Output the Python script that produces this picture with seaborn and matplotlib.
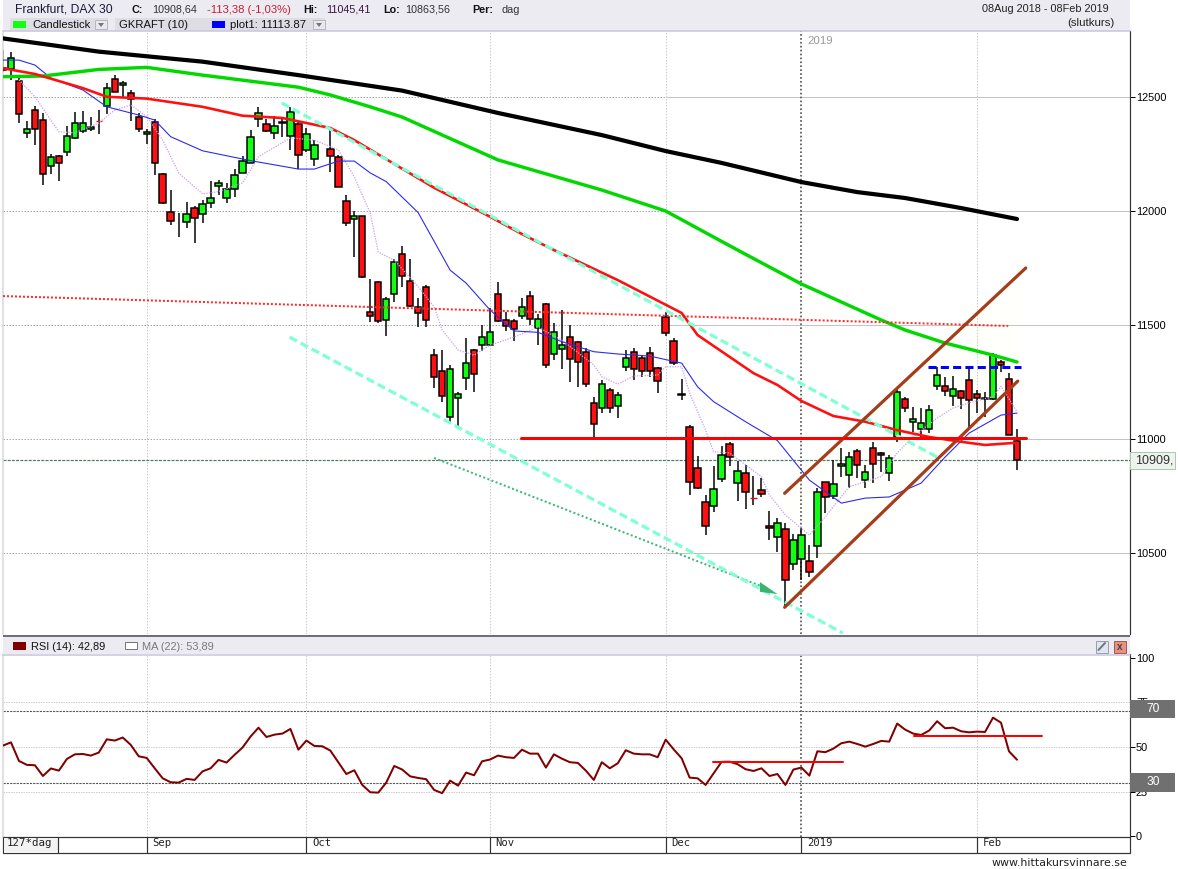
import numpy as np
import matplotlib
matplotlib.use('Agg')
import matplotlib.pyplot as plt
from matplotlib.patches import Rectangle
import seaborn as sns

nan = float('nan')

# daily candles, one slot per trading day
opens = [12629, 12623, 12571, 12343, 12442, 12398, 12199, 12240, 12260, 12319,
         12352, 12361, 12393, 12459, 12578, 12551, 12516, 12414, 12336, 12389,
         12161, 11994, nan, 11950, 12012, 11986, 12034, 12108, 12056, 12095,
         12165, 12209, 12402, 12380, 12341, 12392, 12328, 12380, 12266, 12227,
         nan, 12274, 12236, 12043, 11964, 11977, 11556, 11687, 11521, 11635,
         11810, 11692, 11578, 11665, 11367, 11297, 11095, 11179, 11266, 11389,
         11414, 11414, 11635, 11521, 11516, 11538, 11626, 11486, 11591, 11371,
         11393, 11446, 11424, 11380, 11157, 11135, 11214, 11143, 11314, 11380,
         11354, 11376, 11310, 11534, 11429, 11199, 11051, 10871, 10722, 10707,
         10826, 10977, 10806, 10850, 10740, 10775, 10617, 10569, 10604, 10450,
         10472, 10464, 10529, 10810, 10749, 10880, 10841, 10946, 10819, 10959,
         10937, 10850, 11010, 11174, 11073, 11043, 11043, 11231, 11231, 11187,
         11209, 11257, 11196, 11179, 11174, 11336, 11262, 10990]
highs = [12706, 12699, 12596, 12395, 12461, 12430, 12250, 12246, 12373, 12434,
         12439, 12412, 12443, 12563, 12596, 12570, 12531, 12430, 12360, 12404,
         12165, 12092, 11991, 12038, 12022, 12048, 12132, 12136, 12121, 12184,
         12241, 12355, 12455, 12402, 12417, 12414, 12455, 12392, 12364, 12311,
         nan, 12358, 12246, 12070, 12000, 11978, 11702, 11693, 11621, 11789,
         11846, 11789, 11617, 11674, 11395, 11390, 11325, 11205, 11442, 11395,
         11500, 11575, 11689, 11556, 11525, 11617, 11649, 11548, 11595, 11509,
         11566, 11500, 11431, 11398, 11186, 11259, 11222, 11207, 11390, 11398,
         11368, 11402, 11317, 11557, 11442, 11262, 11061, 10925, 10754, 10882,
         10969, 10988, 10905, 10886, 10838, 10830, 10684, 10652, 10630, 10582,
         10608, 10535, 10786, 10811, 10908, 10959, 10943, 10956, 10886, 10988,
         10944, 10930, 11224, 11184, 11139, 11135, 11148, 11317, 11273, 11276,
         11215, 11310, 11215, 11207, 11376, 11346, 11288, 11045]
lows = [12610, 12575, 12387, 12321, 12289, 12114, 12162, 12133, 12241, 12314,
        12343, 12352, 12338, 12425, 12522, 12497, 12396, 12348, 12294, 12158,
        12031, 11939, 11884, 11927, 11861, 11949, 12014, 12070, 12036, 12063,
        12165, 12209, 12370, 12348, 12317, 12325, 12268, 12183, 12260, 12197,
        nan, 12172, 12104, 11934, 11800, 11708, 11513, 11510, 11453, 11602,
        11668, 11580, 11493, 11493, 11225, 11164, 11076, 11051, 11215, 11207,
        11387, 11412, 11514, 11475, 11431, 11525, 11500, 11412, 11310, 11346,
        11307, 11251, 11229, 11229, 11010, 11113, 11113, 11091, 11300, 11259,
        11271, 11271, 11203, 11452, 11325, 11171, 10754, 10783, 10579, 10681,
        10813, 10882, 10729, 10693, 10711, 10747, 10557, 10506, 10268, 10425,
        10382, 10396, 10479, 10677, 10739, 10835, 10784, 10828, 10784, 10808,
        10857, 10817, 10988, 11120, 11032, 11010, 11028, 11215, 11189, 11145,
        11130, 11051, 11113, 11098, 11173, 11295, 11018, 10864]
closes = [12618, 12672, 12424, 12358, 12360, 12161, 12236, 12209, 12328, 12385,
          12385, 12367, 12393, 12538, 12523, 12560, 12493, 12361, 12345, 12209,
          12036, 11955, nan, 11986, 11968, 12029, 12056, 12121, 12095, 12157,
          12218, 12323, 12429, 12350, 12371, 12385, 12433, 12244, 12336, 12288,
          nan, 12243, 12107, 11946, 11977, 11709, 11538, 11518, 11613, 11775,
          11714, 11585, 11551, 11521, 11271, 11187, 11306, 11196, 11332, 11284,
          11446, 11468, 11516, 11494, 11481, 11578, 11525, 11525, 11323, 11468,
          11411, 11350, 11336, 11240, 11064, 11240, 11135, 11192, 11354, 11306,
          11297, 11297, 11253, 11464, 11332, 11195, 10810, 10784, 10617, 10779,
          10929, 10920, 10861, 10769, 10740, 10760, 10608, 10630, 10380, 10556,
          10578, 10415, 10766, 10744, 10801, 10889, 10920, 10885, 10854, 10889,
          10929, 10915, 11205, 11135, 11086, 11069, 11126, 11279, 11209, 11218,
          11179, 11170, 11179, 11174, 11368, 11323, 11019, 10909]

# moving averages, vertices as (bar, price)
ma_black_bar = [0, 12, 25, 37, 50, 62, 75, 83, 90, 100, 107, 113, 120, 127]
ma_black = [12757, 12699, 12655, 12596, 12528, 12430, 12333, 12263, 12211, 12127, 12083, 12057, 12013, 11965]
ma_green_bar = [0, 5, 12, 18, 25, 37, 41, 46, 50, 62, 75, 83, 92, 100, 110, 113, 118, 124, 127]
ma_green = [12589, 12592, 12621, 12630, 12596, 12543, 12509, 12457, 12412, 12224, 12092, 12000, 11829, 11680, 11522, 11478, 11421, 11368, 11338]
ma_red_bar = [0, 4, 10, 13, 18, 25, 30, 35, 41, 44, 54, 61, 65, 69, 77, 85, 87, 94, 97, 100, 104, 108, 112, 116, 120, 123, 127]
ma_red = [12626, 12601, 12539, 12501, 12493, 12457, 12418, 12408, 12364, 12311, 12102, 11975, 11899, 11829, 11697, 11553, 11456, 11289, 11237, 11167, 11101, 11076, 11039, 11009, 10988, 10974, 10984]
ma_blue_bar = [0, 2, 4, 6, 10, 13, 17, 19, 21, 25, 31, 37, 39, 42, 44, 46, 48, 52, 56, 58, 61, 64, 67, 70, 74, 77, 81, 85, 87, 89, 93, 97, 101, 105, 108, 111, 115, 118, 121, 125, 127]
ma_blue = [12662, 12662, 12640, 12583, 12531, 12457, 12421, 12399, 12326, 12264, 12221, 12184, 12184, 12219, 12219, 12167, 12129, 11993, 11741, 11684, 11566, 11474, 11468, 11427, 11383, 11373, 11364, 11333, 11229, 11164, 11076, 10993, 10820, 10719, 10741, 10746, 10807, 10921, 11026, 11105, 11114]
ma_lav_bar = [2, 4, 7, 9, 12, 14, 16, 18, 20, 22, 25, 27, 30, 32, 36, 39, 42, 44, 46, 47, 49, 52, 54, 55, 57, 59, 61, 64, 67, 70, 74, 75, 77, 79, 82, 83, 85, 86, 88, 89, 91, 95, 96, 98, 101, 103, 106, 110, 112, 114, 117, 119, 121, 124, 125, 127]
ma_lav = [12575, 12501, 12347, 12343, 12386, 12443, 12465, 12414, 12311, 12167, 12075, 12085, 12123, 12238, 12321, 12311, 12268, 12150, 11991, 11820, 11785, 11668, 11580, 11478, 11390, 11368, 11412, 11447, 11491, 11434, 11325, 11273, 11241, 11276, 11281, 11317, 11317, 11202, 11039, 10944, 10939, 10835, 10754, 10667, 10579, 10659, 10791, 10835, 10939, 11010, 11092, 11136, 11159, 11186, 11232, 11120]

# hand drawn lines on the chart
aqua_top_bar, aqua_top = [34.9, 117], [12474, 10921]
aqua_low_bar, aqua_low = [35.9, 105.2], [11447, 10149]
green_dot_bar, green_dot = [54, 94.8], [10917, 10357]
red_dot_bar, red_dot = [0, 125.9], [11627, 11496]
red_flat_bar, red_flat = [64.9, 128.1], [11003, 11003]
blue_dash_bar, blue_dash = [115.9, 127.5], [11314, 11314]
chan_up_bar, chan_up = [97.9, 128.1], [10762, 11750]
chan_low_bar, chan_low = [97.9, 127.1], [10262, 11254]
arrow_bar, arrow_val = [94.8, 97, 94.8], [10373, 10320, 10330]

rsi = [50.8, 52.6, 42.2, 40.0, 39.8, 33.8, 38.0, 36.8, 43.3, 45.9,
       46.1, 45.2, 46.9, 54.3, 53.6, 55.3, 51.2, 44.8, 43.9, 38.1,
       32.5, 30.3, 30.1, 32.2, 31.6, 36.4, 38.1, 42.8, 41.3, 45.6,
       49.7, 55.8, 60.8, 55.6, 56.9, 57.5, 60.1, 48.5, 53.6, 50.6,
       50.4, 48.0, 41.5, 34.9, 37.0, 28.8, 24.7, 24.5, 30.1, 39.4,
       37.4, 33.6, 32.7, 32.0, 26.0, 24.2, 31.2, 28.4, 35.7, 34.2,
       42.0, 43.0, 45.2, 44.3, 43.9, 48.5, 46.3, 46.3, 38.5, 45.9,
       43.5, 41.5, 41.1, 36.8, 31.6, 41.5, 38.1, 40.9, 48.2, 46.3,
       45.9, 45.9, 44.3, 54.1, 48.7, 43.7, 32.9, 32.5, 28.8, 35.3,
       41.7, 41.8, 40.4, 37.6, 36.6, 38.1, 33.8, 34.9, 28.8, 37.4,
       38.5, 34.0, 47.6, 47.1, 49.1, 52.1, 53.0, 51.7, 50.2, 51.7,
       53.4, 53.0, 63.1, 59.7, 57.5, 56.7, 59.2, 64.4, 60.5, 60.8,
       58.8, 58.2, 58.6, 58.4, 66.4, 63.6, 47.6, 42.89]
rsi_line1_bar, rsi_line1 = [88.9, 105.2], [41.5, 41.5]
rsi_line2_bar, rsi_line2 = [114.1, 130.1], [56, 56]

month_bar = [18, 38, 61, 83, 100, 122]
month_names = ['Sep', 'Oct', 'Nov', 'Dec', '2019', 'Feb']
price_ticks = [10500, 11000, 11500, 12000, 12500]
rsi_ticks = [0, 25, 50, 75, 100]
last_price = 10909

W, H = 1178, 869
BAR_PX = 7.984
PANEL = '#ecebf1'

sns.set_style('white')
plt.rcParams['font.family'] = ['Liberation Sans', 'DejaVu Sans']
plt.rcParams['axes.unicode_minus'] = False

fig = plt.figure(figsize=(W / 100, H / 100), dpi=100)


def px_axes(left, top, right, bottom):
    return fig.add_axes([left / W, 1 - bottom / H, (right - left) / W, (bottom - top) / H])


def px(n):
    return n * 0.72


ax = px_axes(3.3, 31, 1130, 634)
ax_rsi = px_axes(3.3, 654.5, 1130, 837)

bars = np.arange(len(opens))
o, h, l, c = [np.array(a, dtype=float) for a in (opens, highs, lows, closes)]
up = c > o
down = c < o
doji = c == o

# grid
xlim = ((3.3 - 3) / BAR_PX, (1130 - 3) / BAR_PX)
for a in (ax, ax_rsi):
    for b, name in zip(month_bar, month_names):
        if name == '2019':
            a.axvline(b, color='#555555', lw=px(1.7), ls=(0, (1, 1.3)), zorder=1.5)
        else:
            a.axvline(b, color='#cccccc', lw=px(1), ls=(0, (1.5, 1.5)), zorder=1)
for t in price_ticks:
    ax.hlines(t, xlim[0], 83, color='#a8a8a8', lw=px(1), ls=(0, (1.5, 1.5)), zorder=1)
    ax.hlines(t, 83, xlim[1], color='#c4c4c4', lw=px(1), zorder=1)
ax.axhline(last_price, color='#4d7d62', lw=px(1.2), ls=(0, (2.5, 1)), zorder=1.2)

# faint fill inside the rising channel
ax.fill(chan_up_bar + chan_low_bar[::-1], chan_up + chan_low[::-1], color='#fffffb', lw=0, zorder=0.5)

# candles: wicks first, then bodies through seaborn
keep = ~np.isnan(h)
ax.vlines(bars[keep], l[keep], h[keep], color='black', lw=px(1.5), zorder=2)
sns.barplot(x=bars[up], y=(c - o)[up], bottom=o[up], native_scale=True, orient='x', width=0.8,
            color='#11ff11', saturation=1, edgecolor='black', linewidth=px(1.5), errorbar=None, zorder=3, ax=ax)
sns.barplot(x=bars[down], y=(o - c)[down], bottom=c[down], native_scale=True, orient='x', width=0.8,
            color='#ff0f0f', saturation=1, edgecolor='black', linewidth=px(1.5), errorbar=None, zorder=3, ax=ax)
ax.hlines(o[doji], bars[doji] - 0.4, bars[doji] + 0.4, color='red', lw=px(1.3), zorder=3)

# moving averages
sns.lineplot(x=ma_lav_bar, y=ma_lav, color='#cba4ee', lw=px(1.3), ls=(0, (1, 1)), estimator=None, ax=ax, zorder=4)
sns.lineplot(x=ma_blue_bar, y=ma_blue, color='#2a2af0', lw=px(1.1), estimator=None, ax=ax, zorder=4)
sns.lineplot(x=ma_black_bar, y=ma_black, color='black', lw=px(4.2), estimator=None, ax=ax, zorder=4)
sns.lineplot(x=ma_green_bar, y=ma_green, color='#00d800', lw=px(3.4), estimator=None, ax=ax, zorder=4)

# hand drawn lines
sns.lineplot(x=red_dot_bar, y=red_dot, color='#ff2a2a', lw=px(2), ls=(0, (1, 1)), estimator=None, ax=ax, zorder=4)
sns.lineplot(x=green_dot_bar, y=green_dot, color='#3cb878', lw=px(2), ls=(0, (1, 1.2)), estimator=None, ax=ax, zorder=4)
sns.lineplot(x=ma_red_bar, y=ma_red, color='#ff0f0f', lw=px(2.6), estimator=None, ax=ax, zorder=4.2)
sns.lineplot(x=aqua_top_bar, y=aqua_top, color='#7fffd4', lw=px(3.2), ls=(0, (2.6, 1.3)), estimator=None, ax=ax, zorder=4.4)
sns.lineplot(x=aqua_low_bar, y=aqua_low, color='#7fffd4', lw=px(3.2), ls=(0, (2.6, 1.3)), estimator=None, ax=ax, zorder=4.4)
ax.fill(arrow_bar, arrow_val, color='#3cb371', lw=0, zorder=4.5)
sns.lineplot(x=chan_up_bar, y=chan_up, color='#a53c1a', lw=px(3.2), estimator=None, ax=ax, zorder=4.6)
sns.lineplot(x=chan_low_bar, y=chan_low, color='#a53c1a', lw=px(3.2), estimator=None, ax=ax, zorder=4.6)
sns.lineplot(x=red_flat_bar, y=red_flat, color='#ff0000', lw=px(3), estimator=None, ax=ax, zorder=4.7)
sns.lineplot(x=blue_dash_bar, y=blue_dash, color='#0000ff', lw=px(3), ls=(0, (2.7, 1.4)), estimator=None, ax=ax, zorder=4.8)

ax.text(100.7, 12745, '2019', color='#9a9a9a', fontsize=px(11.5), va='center', zorder=5)

# rsi pane
for t in [25, 50, 75]:
    ax_rsi.axhline(t, color='#cfcfcf', lw=px(1), ls=(0, (1.5, 1)), zorder=1)
for t in [30, 70]:
    ax_rsi.axhline(t, color='#555555', lw=px(1.1), ls=(0, (2, 1)), zorder=1.2)
sns.lineplot(x=bars, y=rsi, color='#800000', lw=px(2), estimator=None, ax=ax_rsi, zorder=3)
sns.lineplot(x=rsi_line1_bar, y=rsi_line1, color='#ff0000', lw=px(2), estimator=None, ax=ax_rsi, zorder=3.2)
sns.lineplot(x=rsi_line2_bar, y=rsi_line2, color='#ff0000', lw=px(2), estimator=None, ax=ax_rsi, zorder=3.2)

ax.set_ylim(10145, 12789.5)
ax_rsi.set_ylim(-0.3, 101.7)
ax.set_yticks(price_ticks)
ax_rsi.set_yticks(rsi_ticks)
for a in (ax, ax_rsi):
    a.set_xlim(*xlim)
    a.set_xlabel('')
    a.set_ylabel('')
    a.set_xticks([])
    a.yaxis.tick_right()
    a.tick_params(axis='y', length=px(5), width=px(1), pad=px(1), labelsize=px(11), colors='black', right=True)
    for s in ('top', 'bottom'):
        a.spines[s].set_visible(False)
    a.spines['left'].set_color('#d8d8d8')
    a.spines['left'].set_linewidth(px(1.5))
    a.spines['right'].set_color('#333333')
    a.spines['right'].set_linewidth(px(1.2))

# overlay in picture pixels for the chrome of the chart
top = fig.add_axes([0, 0, 1, 1], zorder=10)
top.set_xlim(0, W)
top.set_ylim(H, 0)
top.axis('off')
top.patch.set_alpha(0)


def box(x0, y0, x1, y1, fc, ec='none', lw=0, z=1):
    top.add_patch(Rectangle((x0, y0), x1 - x0, y1 - y0, fc=fc, ec=ec, lw=px(lw), zorder=z))


def label(x, y, s, color='#111111', size=10.7, ha='left', weight='normal', family=None):
    kw = {'family': family} if family else {}
    top.text(x, y, s, color=color, fontsize=px(size), ha=ha, va='center', fontweight=weight, zorder=5, **kw)


# header
box(3, 0, 1129.5, 30.5, PANEL)
top.plot([3, 1129.5], [30.8, 30.8], color='#c8c4dc', lw=px(1.5), zorder=2)
box(10, 18, 108, 30, '#dddde3', z=2)
box(115, 18, 325, 30, '#dddde3', z=2)
label(15, 10, 'Frankfurt, DAX 30', color='#1a1a40', size=12.1)
label(132, 10, 'C:', weight='bold')
label(152, 10, '10908,64', color='#333333')
label(207, 10, '-113,38 (-1,03%)', color='#c81e32', size=11.2)
label(303, 10, 'Hi:', weight='bold')
label(326, 10, '11045,41', color='#3c1440')
label(383, 10, 'Lo:', weight='bold')
label(405, 10, '10863,56', color='#333333')
label(472, 10, 'Per:', weight='bold')
label(501, 10, 'dag', color='#333333')
label(1109, 9, '08Aug 2018 - 08Feb 2019', ha='right', color='#222222', size=10.9)
label(1115, 23, '(slutkurs)', ha='right', color='#222222', size=11.5)
box(13, 20.5, 26, 28, '#11ff11', z=3)
label(32, 25, 'Candlestick', size=11.3)
label(119, 25, 'GKRAFT (10)', size=11.2)
box(212, 20.5, 225, 28, '#0000ff', z=3)
label(230, 25, 'plot1: 11113.87', size=11.4)
for x0 in (95, 313):
    box(x0, 20, x0 + 12, 29, '#e8e8ee', ec='#b8b8c0', lw=1, z=3)
    top.fill([x0 + 3, x0 + 9, x0 + 6], [23, 23, 27], color='#777777', lw=0, zorder=4)

# pane separator and rsi header
box(3, 634.6, 1130, 637, '#707070', z=3)
box(3, 637, 1130, 654, PANEL, z=2)
top.plot([3, 1130], [654.5, 654.5], color='#c8c4dc', lw=px(1.5), zorder=3)
box(13, 641.5, 26, 650, '#800000', z=4)
label(31, 647, 'RSI (14): 42,89', size=11)
box(125, 642, 136.5, 649, 'white', ec='#777777', lw=1, z=4)
label(142, 647, 'MA (22): 53,89', color='#7a7a7a', size=11)
box(1095.5, 640.5, 1107.5, 652.5, '#dfe6f0', ec='#98a0b0', lw=1, z=4)
top.plot([1098.5, 1105], [650, 643], color='#707880', lw=px(2), zorder=5)
box(1113.5, 640.5, 1126, 652.5, '#e89080', ec='#a06050', lw=1, z=4)
label(1119.7, 646.5, 'x', color='#444444', size=10, ha='center', weight='bold')

# footer with month cells
box(3, 837.3, 1130, 853, 'white', ec='#333333', lw=1.2, z=2)
box(3.5, 838, 58, 852.5, '#f3f3f3', z=3)
top.plot([58, 58], [837.3, 853], color='#333333', lw=px(1.2), zorder=4)
label(7, 843.5, '127*dag', color='#222222', size=10.8, family='DejaVu Sans Mono')
for b, name in zip(month_bar, month_names):
    x = 3 + BAR_PX * b
    top.plot([x, x], [837.3, 853], color='#333333', lw=px(1.2), zorder=4)
    label(x + 5.5, 843.5, name, color='#222222', size=10.5, family='DejaVu Sans Mono')
label(1127, 862.5, 'www.hittakursvinnare.se', color='#222222', size=11, ha='right', family='DejaVu Sans')

# value boxes on the right
box(1129.5, 451.5, 1175, 469, '#edf4ee', ec='#a8c8b0', lw=1, z=4)
label(1135, 460.5, '10909,', color='#333333', size=12.5)
box(1130, 700, 1175, 718.3, '#707070', z=4)
label(1153, 709, '70', color='white', size=12, ha='center')
box(1130, 773.3, 1175, 791.7, '#707070', z=4)
label(1153, 782, '30', color='white', size=12, ha='center')

fig.savefig('out.png', dpi=100)
